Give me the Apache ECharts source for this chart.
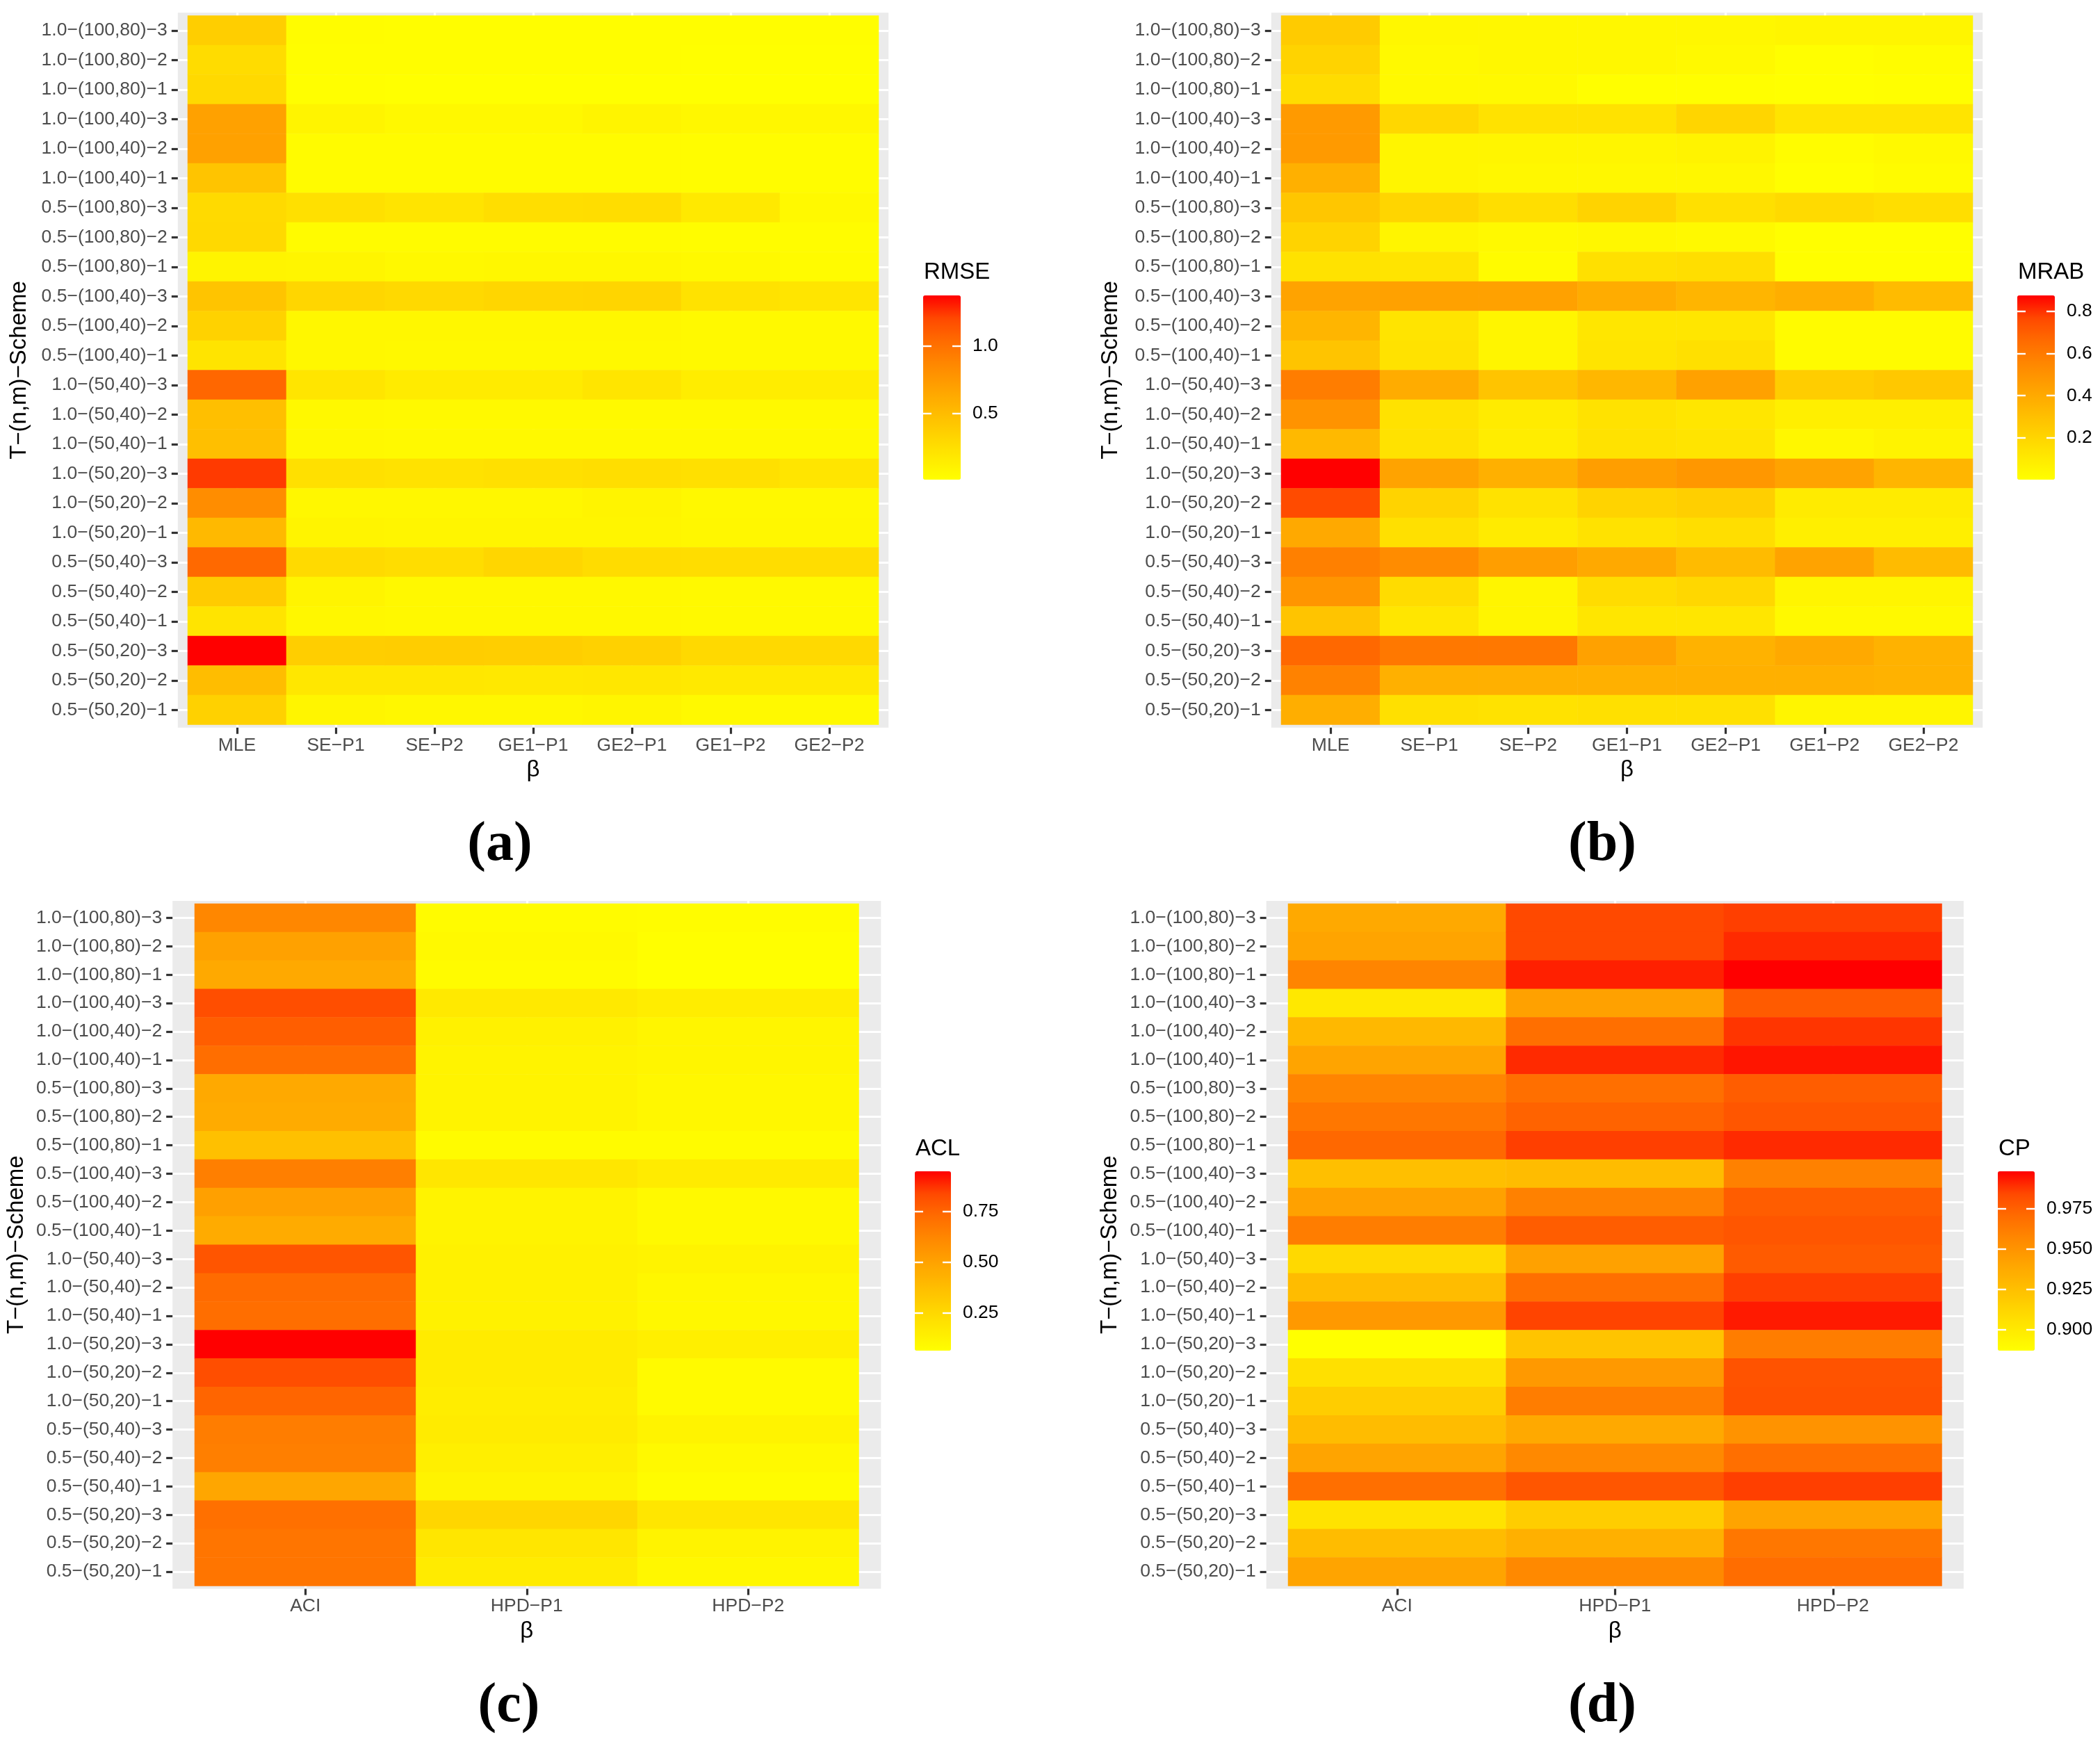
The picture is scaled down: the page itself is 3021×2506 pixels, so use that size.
<!DOCTYPE html>
<html>
<head>
<meta charset="utf-8">
<script src="https://cdn.jsdelivr.net/npm/echarts@6/dist/echarts.min.js"></script>
<style>
html, body { margin: 0; padding: 0; background: #fff; }
#chart { width: 3021px; height: 2506px; }
</style>
</head>
<body>
<div id="chart"></div>
<script>
// rows, listed top to bottom as in the figure
const schemes = [
    '1.0−(100,80)−3', '1.0−(100,80)−2', '1.0−(100,80)−1',
    '1.0−(100,40)−3', '1.0−(100,40)−2', '1.0−(100,40)−1',
    '0.5−(100,80)−3', '0.5−(100,80)−2', '0.5−(100,80)−1',
    '0.5−(100,40)−3', '0.5−(100,40)−2', '0.5−(100,40)−1',
    '1.0−(50,40)−3', '1.0−(50,40)−2', '1.0−(50,40)−1',
    '1.0−(50,20)−3', '1.0−(50,20)−2', '1.0−(50,20)−1',
    '0.5−(50,40)−3', '0.5−(50,40)−2', '0.5−(50,40)−1',
    '0.5−(50,20)−3', '0.5−(50,20)−2', '0.5−(50,20)−1'
];
const pointCols = ['MLE', 'SE−P1', 'SE−P2', 'GE1−P1', 'GE2−P1', 'GE1−P2', 'GE2−P2'];
const intervalCols = ['ACI', 'HPD−P1', 'HPD−P2'];

// (a) RMSE
const rmseMLE  = [0.37, 0.27, 0.29, 0.69, 0.69, 0.44, 0.28, 0.29, 0.09, 0.44, 0.34, 0.21, 1.06, 0.48, 0.48, 1.24, 0.83, 0.52, 1.05, 0.39, 0.21, 1.375, 0.49, 0.35];
const rmseSEP1 = [0.03, 0.02, 0.015, 0.09, 0.04, 0.04, 0.24, 0.04, 0.08, 0.31, 0.07, 0.07, 0.20, 0.06, 0.06, 0.24, 0.07, 0.09, 0.28, 0.09, 0.07, 0.37, 0.19, 0.08];
const rmseSEP2 = [0.02, 0.02, 0.01, 0.06, 0.04, 0.04, 0.21, 0.04, 0.06, 0.29, 0.07, 0.06, 0.16, 0.05, 0.05, 0.22, 0.07, 0.08, 0.26, 0.06, 0.06, 0.38, 0.19, 0.07];
const rmseGE1P1 = [0.02, 0.02, 0.01, 0.06, 0.04, 0.04, 0.25, 0.04, 0.07, 0.31, 0.07, 0.06, 0.16, 0.05, 0.05, 0.24, 0.07, 0.08, 0.31, 0.06, 0.06, 0.37, 0.18, 0.07];
const rmseGE2P1 = [0.02, 0.02, 0.01, 0.09, 0.04, 0.04, 0.26, 0.04, 0.07, 0.32, 0.07, 0.06, 0.20, 0.05, 0.05, 0.25, 0.09, 0.08, 0.27, 0.06, 0.06, 0.35, 0.19, 0.08];
const rmseGE1P2 = [0.02, 0.015, 0.008, 0.07, 0.03, 0.03, 0.17, 0.03, 0.05, 0.22, 0.05, 0.05, 0.14, 0.05, 0.05, 0.24, 0.06, 0.07, 0.26, 0.05, 0.05, 0.29, 0.17, 0.05];
const rmseGE2P2 = [0.02, 0.015, 0.01, 0.07, 0.03, 0.03, 0.05, 0.03, 0.04, 0.20, 0.05, 0.05, 0.14, 0.05, 0.05, 0.20, 0.06, 0.07, 0.26, 0.05, 0.05, 0.29, 0.17, 0.05];
const rmseTicks = [0.5, 1.0];

// (b) MRAB
const mrabMLE  = [0.25, 0.21, 0.17, 0.47, 0.47, 0.37, 0.27, 0.21, 0.14, 0.43, 0.35, 0.28, 0.59, 0.50, 0.33, 0.874, 0.76, 0.40, 0.58, 0.49, 0.28, 0.67, 0.57, 0.38];
const mrabSEP1 = [0.04, 0.03, 0.03, 0.19, 0.05, 0.05, 0.20, 0.05, 0.13, 0.44, 0.13, 0.14, 0.39, 0.14, 0.14, 0.43, 0.21, 0.15, 0.53, 0.17, 0.12, 0.61, 0.37, 0.15];
const mrabSEP2 = [0.04, 0.04, 0.03, 0.14, 0.05, 0.04, 0.16, 0.03, 0.02, 0.44, 0.05, 0.05, 0.28, 0.10, 0.09, 0.37, 0.14, 0.10, 0.45, 0.05, 0.05, 0.61, 0.37, 0.14];
const mrabGE1P1 = [0.04, 0.04, 0.008, 0.14, 0.05, 0.04, 0.21, 0.04, 0.15, 0.39, 0.12, 0.13, 0.34, 0.14, 0.14, 0.45, 0.21, 0.14, 0.40, 0.17, 0.12, 0.44, 0.37, 0.15];
const mrabGE2P1 = [0.04, 0.03, 0.008, 0.20, 0.06, 0.04, 0.15, 0.03, 0.16, 0.35, 0.12, 0.15, 0.44, 0.12, 0.13, 0.48, 0.23, 0.16, 0.32, 0.19, 0.12, 0.36, 0.37, 0.15];
const mrabGE1P2 = [0.05, 0.01, 0.003, 0.13, 0.015, 0.008, 0.18, 0.01, 0.008, 0.38, 0.02, 0.02, 0.24, 0.08, 0.04, 0.43, 0.10, 0.08, 0.43, 0.05, 0.03, 0.40, 0.37, 0.05];
const mrabGE2P2 = [0.05, 0.015, 0.01, 0.13, 0.03, 0.02, 0.16, 0.008, 0.008, 0.32, 0.02, 0.02, 0.26, 0.08, 0.06, 0.35, 0.10, 0.08, 0.32, 0.05, 0.03, 0.36, 0.36, 0.05];
const mrabTicks = [0.2, 0.4, 0.6, 0.8];

// (c) ACL
const aclACI  = [0.62, 0.505, 0.47, 0.82, 0.77, 0.72, 0.47, 0.46, 0.36, 0.65, 0.51, 0.46, 0.80, 0.73, 0.72, 0.948, 0.82, 0.75, 0.66, 0.65, 0.48, 0.71, 0.69, 0.69];
const aclHPD1 = [0.08, 0.09, 0.08, 0.17, 0.13, 0.12, 0.12, 0.12, 0.08, 0.18, 0.12, 0.12, 0.13, 0.13, 0.13, 0.16, 0.16, 0.15, 0.16, 0.14, 0.12, 0.26, 0.18, 0.16];
const aclHPD2 = [0.075, 0.068, 0.062, 0.15, 0.11, 0.11, 0.10, 0.10, 0.08, 0.16, 0.09, 0.09, 0.12, 0.10, 0.10, 0.14, 0.085, 0.085, 0.12, 0.09, 0.075, 0.18, 0.12, 0.10];
const aclTicks = [0.25, 0.50, 0.75];

// (d) CP
const cpACI  = [0.938, 0.941, 0.958, 0.901, 0.929, 0.941, 0.958, 0.965, 0.972, 0.925, 0.9425, 0.962, 0.910, 0.927, 0.947, 0.887, 0.906, 0.917, 0.927, 0.941, 0.969, 0.904, 0.927, 0.941];
const cpHPD1 = [0.984, 0.984, 0.992, 0.9425, 0.969, 0.990, 0.969, 0.974, 0.986, 0.927, 0.960, 0.976, 0.9425, 0.969, 0.985, 0.922, 0.947, 0.962, 0.938, 0.956, 0.979, 0.917, 0.934, 0.956];
const cpHPD2 = [0.986, 0.990, 0.998, 0.977, 0.988, 0.994, 0.976, 0.979, 0.990, 0.960, 0.976, 0.979, 0.977, 0.986, 0.993, 0.962, 0.980, 0.981, 0.950, 0.969, 0.986, 0.941, 0.965, 0.970];
const cpTicks = [0.900, 0.925, 0.950, 0.975];

// yellow -> red, sampled along the Lab path ggplot uses
const ramp = ['#FFFF00', '#FFE800', '#FFD100', '#FFB900', '#FFA100', '#FF8800', '#FF6C00', '#FF4900', '#FF0000'];

const FONT = 'Liberation Sans';

const panels = [
    { title: 'RMSE', cols: pointCols, values: [rmseMLE, rmseSEP1, rmseSEP2, rmseGE1P1, rmseGE2P1, rmseGE1P2, rmseGE2P2],
      ticks: rmseTicks, digits: 1,
      tile: { l: 270, t: 22.5, w: 994, h: 1020 }, bar: { l: 1328, t: 425, w: 54, h: 265 },
      titleY: 392, yNameDist: 228, cap: '(a)', capX: 719, capY: 1216 },
    { title: 'MRAB', cols: pointCols, values: [mrabMLE, mrabSEP1, mrabSEP2, mrabGE1P1, mrabGE2P1, mrabGE1P2, mrabGE2P2],
      ticks: mrabTicks, digits: 1,
      tile: { l: 1843, t: 22.5, w: 995, h: 1020 }, bar: { l: 2902, t: 425, w: 54, h: 265 },
      titleY: 392, yNameDist: 231, cap: '(b)', capX: 2305, capY: 1216 },
    { title: 'ACL', cols: intervalCols, values: [aclACI, aclHPD1, aclHPD2],
      ticks: aclTicks, digits: 2,
      tile: { l: 280, t: 1300, w: 955.5, h: 981.5 }, bar: { l: 1316, t: 1685, w: 52, h: 258 },
      titleY: 1653, yNameDist: 225, cap: '(c)', capX: 732, capY: 2455 },
    { title: 'CP', cols: intervalCols, values: [cpACI, cpHPD1, cpHPD2],
      ticks: cpTicks, digits: 3,
      tile: { l: 1853, t: 1300, w: 940.5, h: 981.5 }, bar: { l: 2874, t: 1685, w: 53, h: 258 },
      titleY: 1653, yNameDist: 225, cap: '(d)', capX: 2305, capY: 2455 }
];

const grid = [], xAxis = [], yAxis = [], series = [], visualMap = [], texts = [];

const tickStyle = { show: true, alignWithLabel: true, interval: 0, length: 9,
    lineStyle: { color: '#333333', width: 3.2 } };
const tickLabel = { color: '#4D4D4D', fontSize: 26.5, fontFamily: FONT, interval: 0 };

panels.forEach(function (p, i) {
    const nCol = p.cols.length, nRow = schemes.length;
    const colW = p.tile.w / nCol, rowH = p.tile.h / nRow;
    const flat = [].concat.apply([], p.values);
    const vmin = Math.min.apply(null, flat), vmax = Math.max.apply(null, flat);

    // grey panel, 0.1 of a cell wider than the tiles, white grid lines at cell centres
    const bg = grid.length;
    grid.push({ left: p.tile.l - 0.1 * colW, top: p.tile.t - 0.1 * rowH,
        width: p.tile.w + 0.2 * colW, height: p.tile.h + 0.2 * rowH,
        show: true, backgroundColor: '#EBEBEB', borderWidth: 0 });
    xAxis.push({ type: 'value', gridIndex: bg, min: -0.6, max: nCol - 0.4,
        axisLine: { show: false }, axisLabel: { show: false },
        axisTick: { show: false, customValues: p.cols.map(function (c, k) { return k; }) },
        splitLine: { show: true, lineStyle: { color: '#FFFFFF', width: 3.2 } } });
    yAxis.push({ type: 'value', gridIndex: bg, min: -0.6, max: nRow - 0.4,
        axisLine: { show: false }, axisLabel: { show: false },
        axisTick: { show: false, customValues: schemes.map(function (c, k) { return k; }) },
        splitLine: { show: true, lineStyle: { color: '#FFFFFF', width: 3.2 } } });

    // tiles
    const g = grid.length;
    grid.push({ left: p.tile.l, top: p.tile.t, width: p.tile.w, height: p.tile.h });
    const xi = xAxis.length;
    xAxis.push({ type: 'category', gridIndex: g, data: p.cols, offset: 0.1 * rowH,
        axisLine: { show: false }, axisTick: tickStyle, splitLine: { show: false },
        axisLabel: Object.assign({ margin: 12 }, tickLabel),
        name: 'β', nameLocation: 'middle', nameGap: 45,
        nameTextStyle: { color: '#000', fontSize: 33, fontFamily: FONT } });
    const yi = yAxis.length;
    yAxis.push({ type: 'category', gridIndex: g, data: schemes, inverse: true, offset: 0.1 * colW,
        axisLine: { show: false }, axisTick: tickStyle, splitLine: { show: false },
        axisLabel: Object.assign({ margin: 15 }, tickLabel),
        name: 'T−(n,m)−Scheme', nameLocation: 'middle', nameRotate: 90, nameGap: p.yNameDist - 17,
        nameTextStyle: { color: '#000', fontSize: 33, fontFamily: FONT } });

    const cells = [];
    p.values.forEach(function (col, c) {
        col.forEach(function (v, r) { cells.push([c, r, v]); });
    });
    series.push({ type: 'heatmap', xAxisIndex: xi, yAxisIndex: yi, data: cells,
        silent: true, itemStyle: { borderWidth: 0 }, emphasis: { disabled: true } });

    visualMap.push({ type: 'continuous', seriesIndex: i, min: vmin, max: vmax,
        inRange: { color: ramp }, calculable: false, hoverLink: false, padding: 0,
        left: p.bar.l, top: p.bar.t, itemWidth: p.bar.w, itemHeight: p.bar.h });

    // colour bar ticks and labels
    const lg = grid.length;
    grid.push({ left: p.bar.l, top: p.bar.t, width: p.bar.w, height: p.bar.h });
    xAxis.push({ type: 'value', gridIndex: lg, show: false });
    const barTick = { show: true, inside: true, length: 12, customValues: p.ticks,
        lineStyle: { color: '#FFFFFF', width: 2.4 } };
    yAxis.push({ type: 'value', gridIndex: lg, position: 'left', min: vmin, max: vmax, z: 10,
        axisLine: { show: false }, axisTick: barTick, splitLine: { show: false },
        axisLabel: { show: false } });
    yAxis.push({ type: 'value', gridIndex: lg, position: 'right', min: vmin, max: vmax, z: 10,
        axisLine: { show: false }, axisTick: barTick, splitLine: { show: false },
        axisLabel: { show: true, customValues: p.ticks, margin: 17, color: '#000', fontSize: 26.5,
            fontFamily: FONT, formatter: function (v) { return v.toFixed(p.digits); } } });

    texts.push({ type: 'text', x: p.bar.l + 1, y: p.titleY,
        style: { text: p.title, fill: '#000', font: '33px "' + FONT + '"', verticalAlign: 'middle' } });
    texts.push({ type: 'text', x: p.capX, y: p.capY,
        style: { text: p.cap, fill: '#000', font: 'bold 80px "Liberation Serif"',
            textAlign: 'center', verticalAlign: 'middle' } });
});

const chart = echarts.init(document.getElementById('chart'));
chart.setOption({
    backgroundColor: '#FFFFFF',
    animation: false,
    grid: grid,
    xAxis: xAxis,
    yAxis: yAxis,
    visualMap: visualMap,
    series: series,
    graphic: { elements: texts }
});
</script>
</body>
</html>
